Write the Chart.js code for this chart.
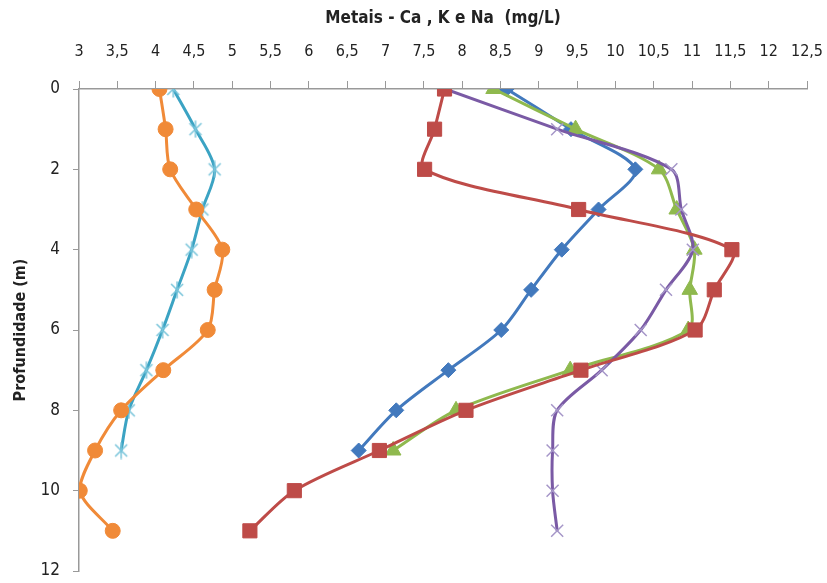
<!DOCTYPE html>
<html><head><meta charset="utf-8">
<script src="https://cdn.jsdelivr.net/npm/chart.js@4"></script>
<style>html,body{margin:0;padding:0;background:#fff}#w{width:827px;height:583px}</style>
</head><body><div id="w"><canvas id="c"></canvas></div>
<script>
const depthA = [0,1,2,3,4,5,6,7,8,9];
const depthB = [0,1,2,3,4,5,6,7,8,9,10,11];
const blueVals   = [8.58,9.42,10.26,9.78,9.30,8.90,8.51,7.82,7.14,6.65];
const redVals    = [7.77,7.64,7.51,9.52,11.52,11.29,11.04,9.55,8.05,6.92,5.81,5.23];
const greenVals  = [8.41,9.48,10.57,10.80,11.03,10.97,10.95,9.41,7.92,7.10];
const purpleVals = [7.78,9.24,10.73,10.86,11.01,10.66,10.33,9.82,9.24,9.18,9.18,9.24];
const cyanVals   = [4.23,4.52,4.77,4.61,4.47,4.28,4.09,3.88,3.65,3.55];
const orangeVals = [4.05,4.13,4.19,4.53,4.87,4.77,4.68,4.10,3.55,3.21,3.01,3.44];
const xTitle = 'Metais - Ca , K e Na  (mg/L)';
const yTitle = 'Profundidade (m)';

const pts = (vals, depths) => vals.map((v,i)=>({x:v,y:depths[i]}));
const FONT = "'Liberation Sans Narrow','DejaVu Sans Condensed','Liberation Sans',sans-serif";

// asterisk-like marker: X with a vertical stroke
const star = document.createElement('canvas');
star.width = 16; star.height = 18;
(function(){
  const g = star.getContext('2d');
  g.strokeStyle = '#78C4DA'; g.lineWidth = 1.5;
  g.beginPath();
  g.moveTo(2,3); g.lineTo(14,15);
  g.moveTo(14,3); g.lineTo(2,15);
  g.moveTo(8,0.5); g.lineTo(8,17.5);
  g.stroke();
})();

function ds(vals, depths, color, mColor, style, r, order, bw){
  return {data:pts(vals,depths), borderColor:color, backgroundColor:mColor, pointBorderColor:mColor,
    pointBackgroundColor:mColor, pointStyle:style, pointRadius:r, pointHoverRadius:r,
    pointBorderWidth:bw||1, borderWidth:3, tension:0.3, fill:false, order:order};
}

new Chart(document.getElementById('c'), {
  type:'line',
  data:{datasets:[
    ds(blueVals, depthA, '#4279BD', '#4279BD', 'rectRot', 7.5, 4),
    ds(redVals, depthB, '#BE4B48', '#BE4B48', 'rect', 10, 1),
    ds(greenVals, depthA, '#8FB94E', '#8FB94E', 'triangle', 9, 3),
    ds(purpleVals, depthB, '#7A5AA5', '#A596C8', 'crossRot', 8.5, 2, 1.5),
    ds(cyanVals, depthA, '#3BA3C3', '#7CC6DB', star, 8, 6, 1.5),
    ds(orangeVals, depthB, '#F08A38', '#F08A38', 'circle', 7.5, 5)
  ]},
  options:{
    responsive:true, maintainAspectRatio:false, animation:false,
    layout:{padding:{left:4,right:0,top:4,bottom:0}},
    plugins:{legend:{display:false}, tooltip:{enabled:false}},
    scales:{
      x:{type:'linear', position:'top', min:3, max:12.5,
        ticks:{stepSize:0.5, color:'#222', font:{family:FONT,size:16}, padding:20,
          maxRotation:0, minRotation:0, autoSkip:false,
          callback:v=>String(v).replace('.',',')},
        grid:{drawOnChartArea:false, drawTicks:true, tickLength:8, color:'#999'},
        border:{color:'#999', width:1.5},
        title:{display:true, text:xTitle, color:'#222', font:{family:FONT,size:17,weight:'bold'}, padding:{top:4,bottom:0}},
        afterFit:s=>{s.height=85; s.paddingRight=20; s.paddingLeft=0;}
      },
      y:{type:'linear', reverse:true, min:0, max:12,
        ticks:{stepSize:2, color:'#222', font:{family:FONT,size:17}, padding:13},
        grid:{drawOnChartArea:false, drawTicks:true, tickLength:6, color:'#999'},
        border:{color:'#999', width:1.5},
        title:{display:true, text:yTitle, color:'#222', font:{family:FONT,size:16,weight:'bold'}, padding:{top:7,bottom:0}},
        afterFit:s=>{s.width=75; s.paddingBottom=12; s.paddingTop=0;}
      }
    }
  }
});
</script></body></html>
